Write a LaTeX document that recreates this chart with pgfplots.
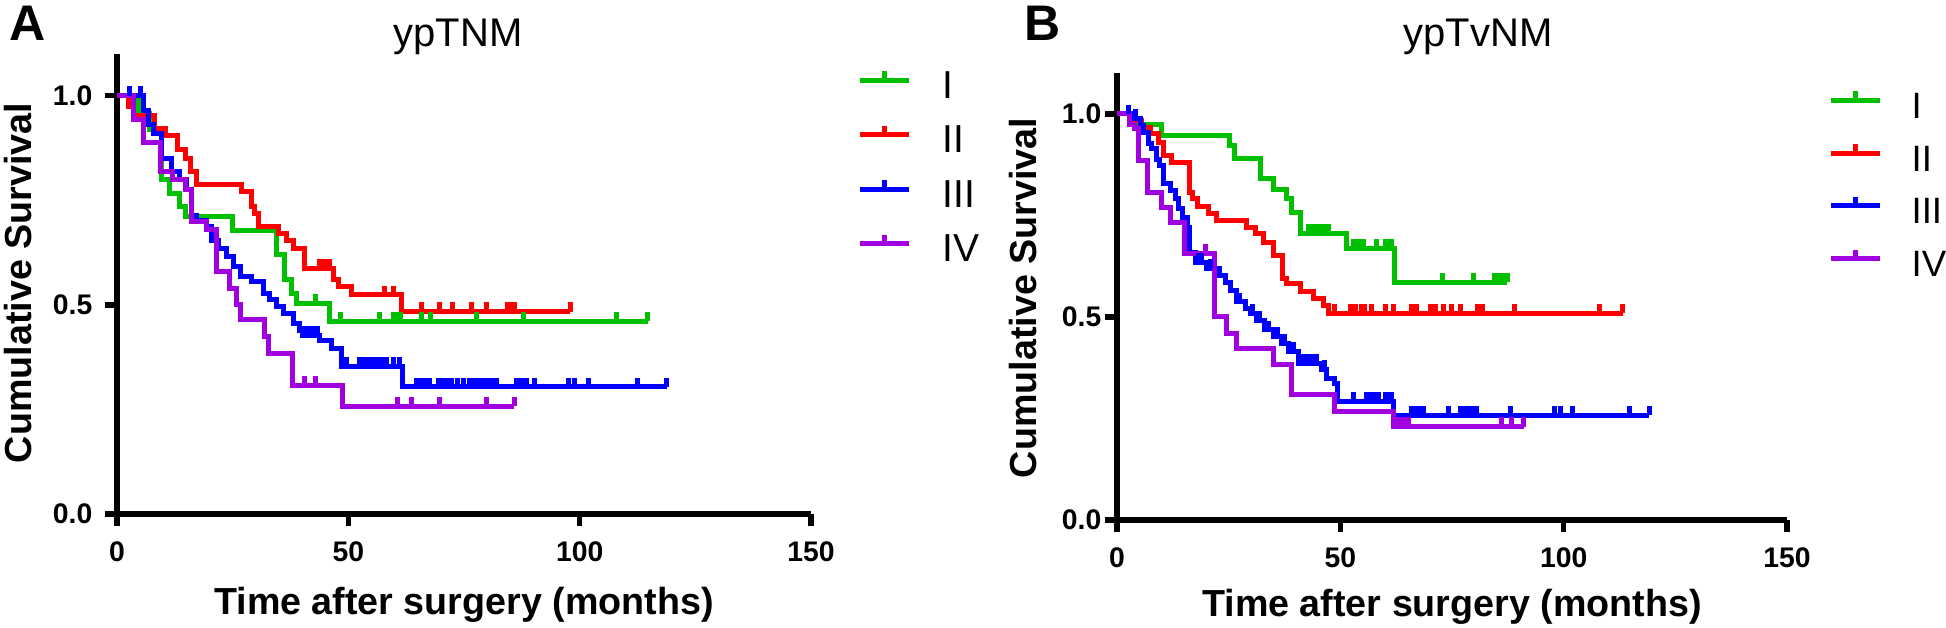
\documentclass[border=0pt]{standalone}
\usepackage{pgfplots}
\pgfplotsset{compat=1.18}
\usepackage{fontspec}
\setmainfont{Liberation Sans}
\definecolor{kmgreen}{RGB}{0,192,0}
\definecolor{kmred}{RGB}{255,0,0}
\definecolor{kmblue}{RGB}{0,0,255}
\definecolor{kmpurple}{RGB}{160,0,224}
\pgfdeclareplotmark{cens}{\pgfpathmoveto{\pgfqpoint{0pt}{0pt}}\pgfpathlineto{\pgfqpoint{0pt}{2.8pt}}\pgfusepathqstroke}
\pgfplotsset{
 km/.style={
  scale only axis,
  axis x line*=bottom, axis y line*=left,
  xmin=0,xmax=150,ymin=0,ymax=1.1,
  xtick={0,50,100,150}, xticklabels={0,50,100,150},
  ytick={0,0.5,1}, yticklabels={0.0,0.5,1.0},
  axis line style={line width=1.6pt, black},
  tick style={line width=1.6pt, black},
  tick align=outside, major tick length=3.6pt,
  tick label style={font=\fontsize{8.5}{10}\selectfont\bfseries, inner sep=0pt},
  xticklabel style={anchor=north, yshift=-4.5pt},
  clip=false,
  legend cell align=left,
  legend image code/.code={\draw[#1,line width=1.5pt] (0pt,1.2pt) -- (14.7pt,1.2pt); \draw[#1,line width=1.5pt] (7.2pt,1.2pt) -- (7.2pt,3.9pt);},
  legend style={draw=none, fill=none, inner sep=0pt, outer sep=0pt, nodes={inner sep=0pt, text height=8.4pt, text depth=0pt}, anchor=north west},
 },
 curve/.style={const plot, line width=1.5pt, mark=none},
 cens/.style={only marks, mark=cens, mark options={line width=1.5pt}, forget plot},
}
\begin{document}
\begin{tikzpicture}
\useasboundingbox (0pt,0pt) rectangle (583.8pt,188.1pt);
% ---------------- Panel A ----------------
\begin{axis}[km, at={(35.1pt,33.9pt)}, anchor=south west, width=208.2pt, height=138pt,
  yticklabel style={xshift=-3.6pt},
  legend style={at={(axis cs:160.1,1.065)}, row sep=7.5pt, font=\fontsize{11.7}{14}\selectfont, /tikz/every odd column/.append style={column sep=9.3pt}}]
\addplot[curve, kmgreen] coordinates {(0,1) (4.6,0.958) (7.1,0.919) (9.6,0.799) (11.4,0.767) (13.6,0.735) (14.7,0.711) (25.0,0.678) (34.5,0.620) (36.3,0.560) (37.7,0.528) (38.8,0.503) (45.9,0.461) (114.7,0.461)};
\addlegendentry{I}
\addplot[curve, kmred] coordinates {(0,1) (2.5,0.975) (3.5,0.952) (8.2,0.923) (10.4,0.904) (13.0,0.871) (14.7,0.851) (15.9,0.819) (17.1,0.787) (26.9,0.771) (29.1,0.735) (29.8,0.719) (30.5,0.687) (34.8,0.671) (36.6,0.655) (38.1,0.636) (40.6,0.588) (46.7,0.560) (47.8,0.544) (50.7,0.524) (61.5,0.484) (98.0,0.484)};
\addlegendentry{II}
\addplot[curve, kmblue] coordinates {(0,1) (5.7,0.966) (6.8,0.931) (7.9,0.911) (9.6,0.851) (11.8,0.819) (13.6,0.799) (15.0,0.775) (16.1,0.715) (17.2,0.703) (19.4,0.687) (20.4,0.655) (21.9,0.636) (23.7,0.616) (25.1,0.592) (26.6,0.568) (29.1,0.556) (31.6,0.528) (33.0,0.512) (34.5,0.496) (35.9,0.480) (38.1,0.456) (39.5,0.440) (40.2,0.428) (43.8,0.416) (46.4,0.396) (48.5,0.352) (61.8,0.304) (118.8,0.304)};
\addlegendentry{III}
\addplot[curve, kmpurple] coordinates {(0,1) (3.5,0.943) (5.7,0.888) (9.5,0.820) (12.0,0.800) (14.7,0.775) (16.0,0.700) (19.4,0.680) (21.5,0.580) (24.4,0.540) (25.8,0.500) (26.6,0.464) (31.9,0.424) (32.7,0.384) (37.9,0.308) (48.7,0.258) (85.9,0.258)};
\addlegendentry{IV}
\addplot[cens, kmgreen] coordinates {(42.8,0.503) (48.4,0.461) (56.8,0.461) (59.7,0.461) (60.5,0.461) (61.2,0.461) (65.8,0.461) (67.7,0.461) (77.8,0.461) (87.9,0.461) (107.9,0.461) (114.7,0.461)};
\addplot[cens, kmred] coordinates {(43.8,0.588) (44.8,0.588) (46.0,0.588) (57.9,0.524) (59.7,0.524) (65.8,0.484) (69.6,0.484) (72.6,0.484) (76.6,0.484) (79.8,0.484) (84.5,0.484) (85.2,0.484) (85.9,0.484) (98.0,0.484)};
\addplot[cens, kmblue] coordinates {(2.8,1) (5.0,1) (40.6,0.428) (41.5,0.428) (42.5,0.428) (43.4,0.428) (49.6,0.352) (52.5,0.352) (53.5,0.352) (54.5,0.352) (55.4,0.352) (56.4,0.352) (57.4,0.352) (58.3,0.352) (59.7,0.352) (61.1,0.352) (64.7,0.304) (65.7,0.304) (66.7,0.304) (67.6,0.304) (69.4,0.304) (70.3,0.304) (71.2,0.304) (72.3,0.304) (73.5,0.304) (74.8,0.304) (76.2,0.304) (77.2,0.304) (78.1,0.304) (79.1,0.304) (80.1,0.304) (81.0,0.304) (82.0,0.304) (86.3,0.304) (87.4,0.304) (88.5,0.304) (90.3,0.304) (97.5,0.304) (98.9,0.304) (101.8,0.304) (112.6,0.304) (118.7,0.304)};
\addplot[cens, kmpurple] coordinates {(40.6,0.308) (42.8,0.308) (60.7,0.258) (63.6,0.258) (69.8,0.258) (79.8,0.258) (85.9,0.258)};
\end{axis}
% ---------------- Panel B ----------------
\begin{axis}[km, at={(335.1pt,32.1pt)}, anchor=south west, width=201pt, height=134pt,
  yticklabel style={xshift=-0.9pt},
  legend style={at={(axis cs:159.3,1.062)}, row sep=7.0pt, font=\fontsize{11}{13}\selectfont, /tikz/every odd column/.append style={column sep=8.7pt}}]
\addplot[curve, kmgreen] coordinates {(0,1) (2.9,0.975) (10.0,0.947) (25.1,0.922) (26.2,0.891) (32.2,0.840) (35.1,0.814) (38.0,0.791) (39.1,0.758) (41.1,0.705) (51.3,0.668) (62.2,0.586) (87.4,0.586)};
\addlegendentry{I}
\addplot[curve, kmred] coordinates {(0,1) (2.9,0.984) (5.5,0.967) (7.4,0.951) (9.2,0.930) (10.4,0.898) (12.2,0.880) (16.2,0.807) (16.9,0.791) (18.0,0.773) (20.4,0.754) (22.2,0.738) (29.0,0.721) (30.9,0.705) (32.9,0.684) (35.0,0.652) (37.1,0.594) (38.0,0.582) (41.1,0.563) (43.9,0.545) (46.2,0.529) (47.3,0.509) (113.2,0.509)};
\addlegendentry{II}
\addplot[curve, kmblue] coordinates {(0,1) (3.7,0.988) (5.2,0.971) (5.9,0.955) (7.0,0.926) (7.8,0.914) (8.9,0.889) (9.6,0.873) (10.4,0.828) (11.9,0.811) (13.0,0.791) (13.7,0.766) (14.7,0.746) (15.7,0.721) (16.3,0.660) (17.5,0.635) (20.1,0.619) (22.3,0.602) (24.2,0.586) (25.3,0.566) (26.8,0.537) (28.7,0.520) (29.8,0.509) (31.3,0.492) (33.1,0.468) (35.0,0.452) (36.9,0.435) (38.4,0.415) (40.6,0.386) (45.8,0.370) (47.0,0.349) (48.8,0.337) (49.3,0.292) (61.9,0.258) (119.2,0.258)};
\addlegendentry{III}
\addplot[curve, kmpurple] coordinates {(0,1) (2.9,0.975) (4.0,0.963) (4.8,0.885) (6.8,0.807) (10.0,0.770) (12.0,0.732) (15.0,0.656) (21.9,0.501) (24.6,0.460) (26.8,0.423) (35.0,0.382) (39.1,0.308) (48.8,0.267) (61.9,0.230) (91.1,0.230)};
\addlegendentry{IV}
\addplot[cens, kmgreen] coordinates {(42.8,0.705) (43.6,0.705) (44.5,0.705) (45.4,0.705) (46.3,0.705) (47.3,0.705) (52.9,0.668) (53.6,0.668) (54.4,0.668) (55.1,0.668) (58.1,0.668) (60.0,0.668) (60.8,0.668) (61.5,0.668) (72.9,0.586) (79.9,0.586) (84.6,0.586) (85.5,0.586) (86.4,0.586) (87.4,0.586)};
\addplot[cens, kmred] coordinates {(48.8,0.509) (52.2,0.509) (52.8,0.509) (53.3,0.509) (54.8,0.509) (55.5,0.509) (57.0,0.509) (60.0,0.509) (61.9,0.509) (66.0,0.509) (66.5,0.509) (67.1,0.509) (70.1,0.509) (70.6,0.509) (71.2,0.509) (73.0,0.509) (74.9,0.509) (76.9,0.509) (80.8,0.509) (81.4,0.509) (81.9,0.509) (88.9,0.509) (108.0,0.509) (113.2,0.509)};
\addplot[cens, kmblue] coordinates {(2.5,1) (4.2,0.988) (18.2,0.635) (19.0,0.635) (21.0,0.619) (23.0,0.602) (27.5,0.537) (30.3,0.509) (32.0,0.492) (34.0,0.468) (36.0,0.452) (37.6,0.435) (39.5,0.415) (41.0,0.386) (41.9,0.386) (42.8,0.386) (43.7,0.386) (44.7,0.386) (46.5,0.370) (52.9,0.292) (55.9,0.292) (56.8,0.292) (57.7,0.292) (58.5,0.292) (60.0,0.292) (60.8,0.292) (61.5,0.292) (66.0,0.258) (66.9,0.258) (67.8,0.258) (68.6,0.258) (74.2,0.258) (76.8,0.258) (77.7,0.258) (78.6,0.258) (79.6,0.258) (80.5,0.258) (88.0,0.258) (98.0,0.258) (99.2,0.258) (102.0,0.258) (114.8,0.258) (119.2,0.258)};
\addplot[cens, kmpurple] coordinates {(19.8,0.656) (63.0,0.230) (64.2,0.230) (65.3,0.230) (86.1,0.230) (88.4,0.230) (91.1,0.230)};
\end{axis}
% ---------------- Texts ----------------
\node[anchor=base west, inner sep=0pt, font=\fontsize{15}{18}\selectfont\bfseries] at (2.5pt,176.1pt) {A};
\node[anchor=base west, inner sep=0pt, font=\fontsize{15}{18}\selectfont\bfseries] at (307pt,176.1pt) {B};
\node[anchor=base, inner sep=0pt, font=\fontsize{12}{14}\selectfont] at (137.4pt,174.3pt) {ypTNM};
\node[anchor=base, inner sep=0pt, font=\fontsize{12}{14}\selectfont] at (443.4pt,174.3pt) {ypTvNM};
\node[rotate=90, anchor=base, inner sep=0pt, font=\fontsize{11.3}{13}\selectfont\bfseries] at (9.6pt,103.2pt) {Cumulative Survival};
\node[rotate=90, anchor=base, inner sep=0pt, font=\fontsize{11.3}{13}\selectfont\bfseries] at (310.8pt,98.7pt) {Cumulative Survival};
\node[anchor=base, inner sep=0pt, font=\fontsize{11.3}{13}\selectfont\bfseries] at (139.2pt,3.9pt) {Time after surgery (months)};
\node[anchor=base, inner sep=0pt, font=\fontsize{11.3}{13}\selectfont\bfseries] at (435.6pt,3.3pt) {Time after surgery (months)};
\end{tikzpicture}
\end{document}
